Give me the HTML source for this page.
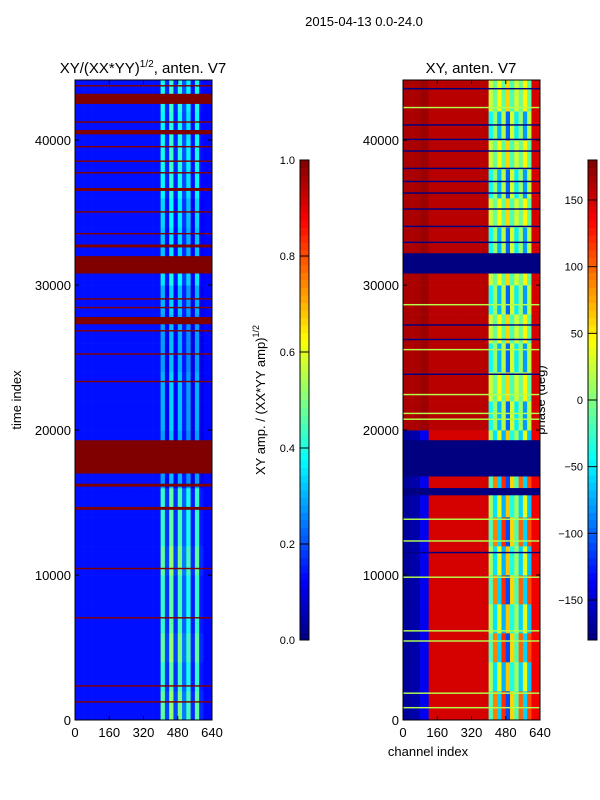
<!DOCTYPE html>
<html><head><meta charset="utf-8">
<style>
body{margin:0;background:#fff;}
svg{display:block;font-family:"Liberation Sans","DejaVu Sans",sans-serif;}
</style></head>
<body>
<svg id="fig" width="600" height="800" viewBox="0 0 600 800">
<text x="364" y="26" font-size="13" text-anchor="middle">2015-04-13 0.0-24.0</text>
<text x="143" y="73" font-size="15" text-anchor="middle">XY/(XX*YY)<tspan font-size="10" dy="-6">1/2</tspan><tspan dy="6">, anten. V7</tspan></text>
<text x="471" y="73" font-size="15" text-anchor="middle">XY, anten. V7</text>
<text x="0" y="0" font-size="13" text-anchor="middle" transform="translate(21,400) rotate(-90)">time index</text>
<text x="428" y="756" font-size="13" text-anchor="middle">channel index</text>
<text x="0" y="0" font-size="13" text-anchor="middle" transform="translate(265,400) rotate(-90)">XY amp. / (XX*YY amp)<tspan font-size="9" dy="-6">1/2</tspan></text>
<text x="0" y="0" font-size="13" text-anchor="middle" transform="translate(545,400) rotate(-90)">phase (deg)</text>
<g id="left"></g>
<g id="right"></g>
<g id="axes"></g>
</svg>
<script>
// ---- data ----
const channelEdges = [0,40,80,120,160,200,240,280,320,360,400,420,440,460,480,500,520,540,560,580,600,640];
const timeEdges = [0,2000,4000,6000,8000,10000,12000,14000,16000,18000,20000,22000,24000,26000,28000,30000,32000,34000,36000,38000,40000,42000,44150];
const ampProfile = [0.14,0.14,0.14,0.14,0.14,0.14,0.14,0.14,0.14,0.14,0.85,0.35,0.95,0.35,0.9,0.45,0.8,0.3,0.85,0.3,0.13];
const ampRowScale = [0.5,0.45,0.5,0.45,0.45,0.5,0.45,0.45,0.3,0.3,0.32,0.32,0.3,0.3,0.32,0.38,0.34,0.36,0.4,0.42,0.4,0.42];
const ampFlagBands = [[1200,1300],[2300,2400],[7000,7100],[10400,10500],[14500,14700],[16100,16300],[17000,19300],[23300,23400],[25200,25300],[26800,26900],[27300,27800],[28400,28500],[29000,29100],[30800,32000],[32600,32800],[33500,33600],[35000,35100],[36500,36700],[37700,37800],[38500,38600],[39500,39600],[40400,40700],[41200,41300],[42500,43200],[43700,43800]];
const phaseLow = [-170,-165,-140,150,150,150,150,150,150,150,-20,90,-60,120,-110,60,-20,100,-60,110,140];
const phaseHigh = [165,165,170,160,160,160,160,160,160,160,-40,10,-70,20,-100,30,-50,10,-80,20,150];
const phaseRowIsHigh = [0,0,0,0,0,0,0,0,0,0,1,1,1,1,1,1,1,1,1,1,1,1];
const phaseBlueBands = [[11500,11600],[15500,16000],[16800,19300],[30800,32200],[32900,33000],[34000,34100],[35200,35300],[36300,36400],[37100,37200],[38000,38100],[39200,39300],[40000,40100],[41000,41100],[43500,43600],[23800,23900],[26200,26300],[27200,27300]];
const phaseGreenBands = [[800,900],[1800,1900],[5400,5500],[6100,6200],[9800,9900],[12300,12400],[13800,13900],[20700,20800],[21100,21200],[22400,22500],[25500,25600],[28600,28700],[42200,42300]];
const yTicks = [0,10000,20000,30000,40000];
const xTicks = [0,160,320,480,640];
const ampTicks = [0.0,0.2,0.4,0.6,0.8,1.0];
const phaseTicks = [-150,-100,-50,0,50,100,150];

// ---- helpers ----
const NS="http://www.w3.org/2000/svg";
function jet(v){v=Math.max(0,Math.min(1,v));
 const c=x=>Math.round(255*Math.max(0,Math.min(1,1.5-Math.abs(x))));
 return `rgb(${c(4*v-3)},${c(4*v-2)},${c(4*v-1)})`;}
const TMAX=44150;
function yScale(t){return 720-(t/TMAX)*640;}
function xScaleL(c){return 75+c/640*137;}
function xScaleR(c){return 403+c/640*137;}
function mk(tag,attrs,parent){const e=document.createElementNS(NS,tag);for(const k in attrs)e.setAttribute(k,attrs[k]);parent.appendChild(e);return e;}
const L=document.getElementById('left'),R=document.getElementById('right'),A=document.getElementById('axes');

// amp heatmap
for(let r=0;r<timeEdges.length-1;r++){
 for(let c=0;c<channelEdges.length-1;c++){
  let v=ampProfile[c];
  if(c>=10&&c<20) v=ampProfile[c]*ampRowScale[r]*1.1;
  const e=mk('rect',{x:xScaleL(channelEdges[c]),y:yScale(timeEdges[r+1]),width:xScaleL(channelEdges[c+1])-xScaleL(channelEdges[c])+0.3,height:yScale(timeEdges[r])-yScale(timeEdges[r+1])+0.3,fill:jet(v)},L);
  
  
 }
}
ampFlagBands.forEach(b=>{
 const e=mk('rect',{x:75,y:yScale(b[1]),width:137,height:Math.max(1.2,yScale(b[0])-yScale(b[1])),fill:jet(1)},L);
 
 
});
// phase heatmap
const pv=p=>(p+180)/360;
for(let r=0;r<timeEdges.length-1;r++){
 const prof=phaseRowIsHigh[r]?phaseHigh:phaseLow;
 for(let c=0;c<channelEdges.length-1;c++){
  let p=prof[c];
  if(c>=10&&c<20&&r%2) p=-p*0.6;
  const e=mk('rect',{x:xScaleR(channelEdges[c]),y:yScale(timeEdges[r+1]),width:xScaleR(channelEdges[c+1])-xScaleR(channelEdges[c])+0.3,height:yScale(timeEdges[r])-yScale(timeEdges[r+1])+0.3,fill:jet(pv(p))},R);
  
  
 }
}
phaseBlueBands.forEach(b=>{
 const e=mk('rect',{x:403,y:yScale(b[1]),width:137,height:Math.max(1.2,yScale(b[0])-yScale(b[1])),fill:jet(0)},R);
 
 
});
phaseGreenBands.forEach(b=>{
 const e=mk('rect',{x:403,y:yScale(b[1]),width:137,height:Math.max(1.2,yScale(b[0])-yScale(b[1])),fill:jet(0.55)},R);
 
 
});

// axes frames & ticks
[[75,xScaleL],[403,xScaleR]].forEach(([x0,xs],i)=>{
 const f=mk('rect',{x:x0,y:80,width:137,height:640,fill:'none',stroke:'#000','stroke-width':1},A);
 
 
 yTicks.forEach(t=>{const y=yScale(t);
  mk('line',{x1:x0,x2:x0+4,y1:y,y2:y,stroke:'#000'},A);
  mk('line',{x1:x0+137,x2:x0+133,y1:y,y2:y,stroke:'#000'},A);
  const tx=mk('text',{x:x0-4,y:y+5,'font-size':13,'text-anchor':'end'},A);tx.textContent=t;
  
  });
 xTicks.forEach(c=>{const x=xs(c);
  mk('line',{x1:x,x2:x,y1:720,y2:716,stroke:'#000'},A);
  mk('line',{x1:x,x2:x,y1:80,y2:84,stroke:'#000'},A);
  const tx=mk('text',{x:x,y:737,'font-size':13,'text-anchor':'middle'},A);tx.textContent=c;
  
  });
});
// colorbars
function colorbar(x0,ticks,vmin,vmax,name,fmt){
 const g=mk('g',{},A);
 
 
 const n=64;
 for(let i=0;i<n;i++){mk('rect',{x:x0,y:640-(i+1)*480/n,width:9,height:480/n+0.5,fill:jet((i+0.5)/n)},g);}
 mk('rect',{x:x0,y:160,width:9,height:480,fill:'none',stroke:'#000'},g);
 ticks.forEach(t=>{const y=640-(t-vmin)/(vmax-vmin)*480;
  mk('line',{x1:x0,x2:x0+9,y1:y,y2:y,stroke:'#000'},g);
  const tx=mk('text',{x:x0-5,y:y+4,'font-size':11,'text-anchor':'end'},g);tx.textContent=fmt(t);
  
  });
}
colorbar(300,ampTicks,0,1,'amp-colorbar',t=>t.toFixed(1));
colorbar(588,phaseTicks,-180,180,'phase-colorbar',t=>t<0?'\u2212'+(-t):String(t));
</script>
</body></html>
